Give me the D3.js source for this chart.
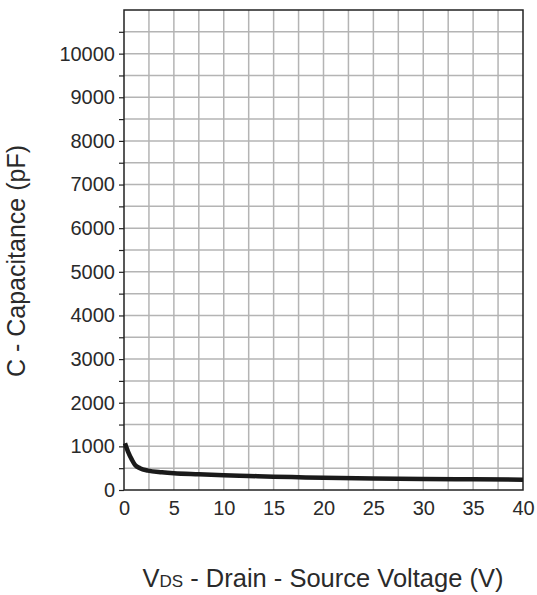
<!DOCTYPE html>
<html>
<head>
<meta charset="utf-8">
<script src="https://cdn.jsdelivr.net/npm/d3@7"></script>
<style>
  body { margin: 0; background: #fff; }
  text { font-family: "Liberation Sans", Arial, sans-serif; fill: #2a2a2a; }
</style>
</head>
<body>
<div id="container"></div>
<script>
// capacitance vs drain-source voltage
var vds = [0.1, 0.4, 0.8, 1.1, 1.6, 2.4, 3.8, 5, 7.5, 10, 12.5, 15, 17.5, 20, 25, 30, 35, 40];
var cap = [1070, 880, 690, 575, 500, 445, 405, 382, 360, 340, 322, 305, 292, 282, 265, 252, 244, 236];
var xTicks = [0, 5, 10, 15, 20, 25, 30, 35, 40];
var yTicks = [0, 1000, 2000, 3000, 4000, 5000, 6000, 7000, 8000, 9000, 10000];

var width = 537, height = 595;
var plotL = 124, plotR = 523, plotT = 10, plotB = 490;

var svg = d3.select("#container").append("svg")
  .attr("width", width).attr("height", height);

var x = d3.scaleLinear().domain([0, 40]).range([plotL, plotR]);
var y = d3.scaleLinear().domain([0, 11000]).range([plotB, plotT]);

// grid
var grid = svg.append("g").attr("stroke", "#b4b4b4").attr("stroke-width", 1.5);
d3.range(2.5, 40, 2.5).forEach(function (v) {
  grid.append("line").attr("x1", x(v)).attr("x2", x(v)).attr("y1", plotT).attr("y2", plotB);
});
d3.range(500, 11000, 500).forEach(function (v) {
  grid.append("line").attr("x1", plotL).attr("x2", plotR).attr("y1", y(v)).attr("y2", y(v));
});

// frame
svg.append("rect")
  .attr("x", plotL).attr("y", plotT)
  .attr("width", plotR - plotL).attr("height", plotB - plotT)
  .attr("fill", "none").attr("stroke", "#222").attr("stroke-width", 1.5);

// y axis ticks + labels
var yAxis = d3.axisLeft(y).tickValues(d3.range(0, 11000, 500)).tickSize(5)
  .tickFormat(function (d) { return yTicks.indexOf(d) >= 0 ? d : ""; });
var gy = svg.append("g").attr("transform", "translate(" + plotL + ",0)").call(yAxis);
gy.select(".domain").remove();
gy.selectAll("line").attr("stroke", "#222").attr("stroke-width", 1.2);
gy.selectAll("text").attr("font-size", 20).attr("x", -9).attr("fill", "#2a2a2a")
  .attr("font-family", "Liberation Sans, Arial, sans-serif");

// x axis labels
var xAxis = d3.axisBottom(x).tickValues(xTicks).tickSize(0).tickPadding(11);
var gx = svg.append("g").attr("transform", "translate(0," + plotB + ")").call(xAxis);
gx.select(".domain").remove();
gx.selectAll("text").attr("font-size", 20).attr("fill", "#2a2a2a")
  .attr("font-family", "Liberation Sans, Arial, sans-serif");

// curve
var line = d3.line()
  .x(function (d, i) { return x(vds[i]); })
  .y(function (d) { return y(d); })
  .curve(d3.curveMonotoneX);
svg.append("path").datum(cap)
  .attr("d", line)
  .attr("fill", "none").attr("stroke", "#1a1a1a")
  .attr("stroke-width", 4.5).attr("stroke-linecap", "butt");

// titles
svg.append("text")
  .attr("transform", "translate(25,261) rotate(-90)")
  .attr("text-anchor", "middle").attr("font-size", 25)
  .text("C - Capacitance (pF)");

var xt = svg.append("text")
  .attr("x", 323).attr("y", 587)
  .attr("text-anchor", "middle").attr("font-size", 25.5);
xt.append("tspan").text("V");
xt.append("tspan").attr("font-size", 17).text("DS");
xt.append("tspan").text(" - Drain - Source Voltage (V)");
</script>
</body>
</html>
